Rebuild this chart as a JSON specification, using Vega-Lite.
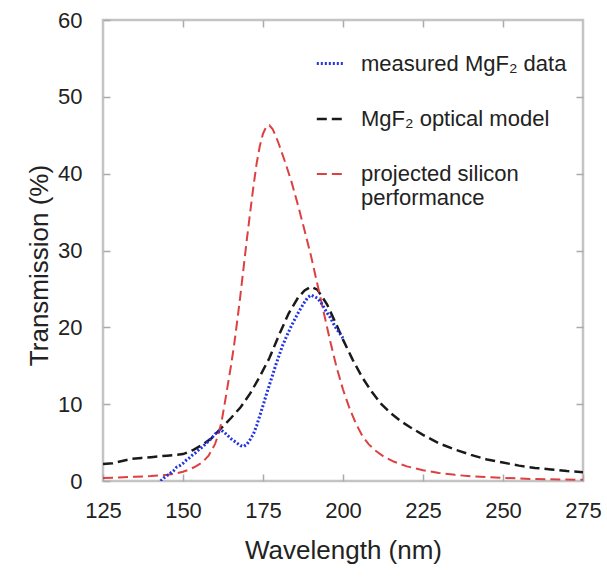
{
  "$schema": "https://vega.github.io/schema/vega-lite/v6.json",
  "width": 480,
  "height": 461,
  "autosize": {"type": "none"},
  "padding": {"left": 103, "top": 20, "right": 24, "bottom": 97},
  "background": "white",
  "config": {
    "font": "Liberation Sans",
    "view": {"stroke": "#c4c4c4", "strokeWidth": 2.5},
    "axis": {
      "domain": false,
      "grid": false,
      "ticks": true,
      "tickColor": "#aaaaaa",
      "tickWidth": 1.5,
      "tickSize": 7,
      "offset": -7,
      "labelFlush": false,
      "labelFontSize": 22,
      "labelColor": "#222222",
      "titleFontSize": 26,
      "titleFontWeight": "normal",
      "titleColor": "#222222"
    },
    "legend": {
      "orient": "none", "legendX": 212, "legendY": 28, "title": null,
      "symbolType": "stroke", "symbolSize": 750,
      "labelFontSize": 22, "labelColor": "#222222", "labelLimit": 400,
      "rowPadding": 29, "labelOffset": 15
    }
  },
  "datasets": {
    "curves": [
      {"series": "MgF₂ optical model", "wl": 125, "t": 2.2},
      {"series": "MgF₂ optical model", "wl": 128, "t": 2.3},
      {"series": "MgF₂ optical model", "wl": 131, "t": 2.6},
      {"series": "MgF₂ optical model", "wl": 134, "t": 2.9},
      {"series": "MgF₂ optical model", "wl": 137, "t": 3.0},
      {"series": "MgF₂ optical model", "wl": 140, "t": 3.1},
      {"series": "MgF₂ optical model", "wl": 145, "t": 3.3},
      {"series": "MgF₂ optical model", "wl": 150, "t": 3.5},
      {"series": "MgF₂ optical model", "wl": 153, "t": 4.0},
      {"series": "MgF₂ optical model", "wl": 156, "t": 4.7},
      {"series": "MgF₂ optical model", "wl": 159, "t": 5.6},
      {"series": "MgF₂ optical model", "wl": 162, "t": 6.9},
      {"series": "MgF₂ optical model", "wl": 165, "t": 8.2},
      {"series": "MgF₂ optical model", "wl": 168, "t": 9.6},
      {"series": "MgF₂ optical model", "wl": 171, "t": 11.4},
      {"series": "MgF₂ optical model", "wl": 174, "t": 13.6},
      {"series": "MgF₂ optical model", "wl": 177, "t": 16.0},
      {"series": "MgF₂ optical model", "wl": 180, "t": 19.0},
      {"series": "MgF₂ optical model", "wl": 183, "t": 21.8},
      {"series": "MgF₂ optical model", "wl": 186, "t": 23.9},
      {"series": "MgF₂ optical model", "wl": 188, "t": 24.8},
      {"series": "MgF₂ optical model", "wl": 190, "t": 25.3},
      {"series": "MgF₂ optical model", "wl": 192, "t": 24.9},
      {"series": "MgF₂ optical model", "wl": 195, "t": 23.0},
      {"series": "MgF₂ optical model", "wl": 198, "t": 20.3},
      {"series": "MgF₂ optical model", "wl": 200, "t": 18.4},
      {"series": "MgF₂ optical model", "wl": 203, "t": 15.8},
      {"series": "MgF₂ optical model", "wl": 206, "t": 13.5},
      {"series": "MgF₂ optical model", "wl": 209, "t": 11.6},
      {"series": "MgF₂ optical model", "wl": 212, "t": 10.0},
      {"series": "MgF₂ optical model", "wl": 215, "t": 8.8},
      {"series": "MgF₂ optical model", "wl": 218, "t": 7.8},
      {"series": "MgF₂ optical model", "wl": 221, "t": 7.0},
      {"series": "MgF₂ optical model", "wl": 225, "t": 6.0},
      {"series": "MgF₂ optical model", "wl": 230, "t": 4.9},
      {"series": "MgF₂ optical model", "wl": 235, "t": 4.1},
      {"series": "MgF₂ optical model", "wl": 240, "t": 3.4},
      {"series": "MgF₂ optical model", "wl": 245, "t": 2.8},
      {"series": "MgF₂ optical model", "wl": 250, "t": 2.4},
      {"series": "MgF₂ optical model", "wl": 255, "t": 2.0},
      {"series": "MgF₂ optical model", "wl": 260, "t": 1.7},
      {"series": "MgF₂ optical model", "wl": 265, "t": 1.5},
      {"series": "MgF₂ optical model", "wl": 270, "t": 1.3},
      {"series": "MgF₂ optical model", "wl": 275, "t": 1.15},

      {"series": "projected silicon performance", "wl": 125, "t": 0.4},
      {"series": "projected silicon performance", "wl": 130, "t": 0.45},
      {"series": "projected silicon performance", "wl": 135, "t": 0.55},
      {"series": "projected silicon performance", "wl": 140, "t": 0.65},
      {"series": "projected silicon performance", "wl": 145, "t": 0.8},
      {"series": "projected silicon performance", "wl": 148, "t": 1.0},
      {"series": "projected silicon performance", "wl": 150, "t": 1.2},
      {"series": "projected silicon performance", "wl": 152, "t": 1.5},
      {"series": "projected silicon performance", "wl": 154, "t": 1.9},
      {"series": "projected silicon performance", "wl": 156, "t": 2.4},
      {"series": "projected silicon performance", "wl": 158, "t": 3.3},
      {"series": "projected silicon performance", "wl": 160, "t": 4.8},
      {"series": "projected silicon performance", "wl": 161, "t": 6.0},
      {"series": "projected silicon performance", "wl": 162, "t": 7.6},
      {"series": "projected silicon performance", "wl": 163, "t": 10.0},
      {"series": "projected silicon performance", "wl": 164, "t": 12.5},
      {"series": "projected silicon performance", "wl": 165, "t": 15.0},
      {"series": "projected silicon performance", "wl": 166, "t": 17.8},
      {"series": "projected silicon performance", "wl": 167, "t": 21.0},
      {"series": "projected silicon performance", "wl": 168, "t": 24.4},
      {"series": "projected silicon performance", "wl": 169, "t": 28.0},
      {"series": "projected silicon performance", "wl": 170, "t": 31.6},
      {"series": "projected silicon performance", "wl": 171, "t": 35.0},
      {"series": "projected silicon performance", "wl": 172, "t": 38.3},
      {"series": "projected silicon performance", "wl": 173, "t": 41.3},
      {"series": "projected silicon performance", "wl": 174, "t": 43.6},
      {"series": "projected silicon performance", "wl": 175, "t": 45.2},
      {"series": "projected silicon performance", "wl": 176, "t": 46.1},
      {"series": "projected silicon performance", "wl": 177, "t": 46.3},
      {"series": "projected silicon performance", "wl": 178, "t": 45.8},
      {"series": "projected silicon performance", "wl": 179, "t": 44.9},
      {"series": "projected silicon performance", "wl": 180, "t": 43.8},
      {"series": "projected silicon performance", "wl": 182, "t": 41.4},
      {"series": "projected silicon performance", "wl": 184, "t": 38.8},
      {"series": "projected silicon performance", "wl": 186, "t": 35.8},
      {"series": "projected silicon performance", "wl": 188, "t": 32.6},
      {"series": "projected silicon performance", "wl": 190, "t": 29.3},
      {"series": "projected silicon performance", "wl": 192, "t": 25.6},
      {"series": "projected silicon performance", "wl": 194, "t": 21.9},
      {"series": "projected silicon performance", "wl": 196, "t": 18.2},
      {"series": "projected silicon performance", "wl": 198, "t": 14.8},
      {"series": "projected silicon performance", "wl": 200, "t": 11.9},
      {"series": "projected silicon performance", "wl": 202, "t": 9.5},
      {"series": "projected silicon performance", "wl": 204, "t": 7.5},
      {"series": "projected silicon performance", "wl": 206, "t": 5.9},
      {"series": "projected silicon performance", "wl": 208, "t": 4.8},
      {"series": "projected silicon performance", "wl": 210, "t": 4.0},
      {"series": "projected silicon performance", "wl": 213, "t": 3.1},
      {"series": "projected silicon performance", "wl": 216, "t": 2.5},
      {"series": "projected silicon performance", "wl": 220, "t": 1.9},
      {"series": "projected silicon performance", "wl": 225, "t": 1.4},
      {"series": "projected silicon performance", "wl": 230, "t": 1.05},
      {"series": "projected silicon performance", "wl": 235, "t": 0.8},
      {"series": "projected silicon performance", "wl": 240, "t": 0.6},
      {"series": "projected silicon performance", "wl": 250, "t": 0.4},
      {"series": "projected silicon performance", "wl": 260, "t": 0.25},
      {"series": "projected silicon performance", "wl": 275, "t": 0.15},

      {"series": "measured MgF₂ data", "wl": 143, "t": 0.0},
      {"series": "measured MgF₂ data", "wl": 144, "t": 0.4},
      {"series": "measured MgF₂ data", "wl": 145, "t": 0.7},
      {"series": "measured MgF₂ data", "wl": 146, "t": 1.0},
      {"series": "measured MgF₂ data", "wl": 147, "t": 1.3},
      {"series": "measured MgF₂ data", "wl": 148, "t": 1.8},
      {"series": "measured MgF₂ data", "wl": 149, "t": 2.0},
      {"series": "measured MgF₂ data", "wl": 150, "t": 2.3},
      {"series": "measured MgF₂ data", "wl": 151, "t": 2.7},
      {"series": "measured MgF₂ data", "wl": 152, "t": 3.0},
      {"series": "measured MgF₂ data", "wl": 153, "t": 3.4},
      {"series": "measured MgF₂ data", "wl": 154, "t": 3.7},
      {"series": "measured MgF₂ data", "wl": 155, "t": 4.1},
      {"series": "measured MgF₂ data", "wl": 156, "t": 4.4},
      {"series": "measured MgF₂ data", "wl": 157, "t": 4.8},
      {"series": "measured MgF₂ data", "wl": 158, "t": 5.2},
      {"series": "measured MgF₂ data", "wl": 159, "t": 5.6},
      {"series": "measured MgF₂ data", "wl": 160, "t": 6.1},
      {"series": "measured MgF₂ data", "wl": 161, "t": 6.4},
      {"series": "measured MgF₂ data", "wl": 162, "t": 6.6},
      {"series": "measured MgF₂ data", "wl": 163, "t": 6.3},
      {"series": "measured MgF₂ data", "wl": 164, "t": 5.9},
      {"series": "measured MgF₂ data", "wl": 165, "t": 5.5},
      {"series": "measured MgF₂ data", "wl": 166, "t": 5.2},
      {"series": "measured MgF₂ data", "wl": 167, "t": 4.9},
      {"series": "measured MgF₂ data", "wl": 168, "t": 4.6},
      {"series": "measured MgF₂ data", "wl": 169, "t": 4.5},
      {"series": "measured MgF₂ data", "wl": 170, "t": 4.8},
      {"series": "measured MgF₂ data", "wl": 171, "t": 5.4},
      {"series": "measured MgF₂ data", "wl": 172, "t": 6.1},
      {"series": "measured MgF₂ data", "wl": 173, "t": 7.2},
      {"series": "measured MgF₂ data", "wl": 174, "t": 8.5},
      {"series": "measured MgF₂ data", "wl": 175, "t": 9.8},
      {"series": "measured MgF₂ data", "wl": 176, "t": 11.2},
      {"series": "measured MgF₂ data", "wl": 177, "t": 12.5},
      {"series": "measured MgF₂ data", "wl": 178, "t": 13.8},
      {"series": "measured MgF₂ data", "wl": 179, "t": 15.1},
      {"series": "measured MgF₂ data", "wl": 180, "t": 16.3},
      {"series": "measured MgF₂ data", "wl": 181, "t": 17.5},
      {"series": "measured MgF₂ data", "wl": 182, "t": 18.5},
      {"series": "measured MgF₂ data", "wl": 183, "t": 19.4},
      {"series": "measured MgF₂ data", "wl": 184, "t": 20.3},
      {"series": "measured MgF₂ data", "wl": 185, "t": 21.1},
      {"series": "measured MgF₂ data", "wl": 186, "t": 21.9},
      {"series": "measured MgF₂ data", "wl": 187, "t": 22.6},
      {"series": "measured MgF₂ data", "wl": 188, "t": 23.3},
      {"series": "measured MgF₂ data", "wl": 189, "t": 23.9},
      {"series": "measured MgF₂ data", "wl": 190, "t": 24.2},
      {"series": "measured MgF₂ data", "wl": 191, "t": 24.0},
      {"series": "measured MgF₂ data", "wl": 192, "t": 23.8},
      {"series": "measured MgF₂ data", "wl": 193, "t": 23.3},
      {"series": "measured MgF₂ data", "wl": 194, "t": 22.6},
      {"series": "measured MgF₂ data", "wl": 195, "t": 21.9},
      {"series": "measured MgF₂ data", "wl": 196, "t": 21.3},
      {"series": "measured MgF₂ data", "wl": 197, "t": 20.5},
      {"series": "measured MgF₂ data", "wl": 198, "t": 19.8},
      {"series": "measured MgF₂ data", "wl": 199, "t": 19.2},
      {"series": "measured MgF₂ data", "wl": 200, "t": 18.6}
    ]
  },
  "data": {"name": "curves"},
  "layer": [
    {
      "mark": {"type": "line", "clip": true},
      "encoding": {
        "x": {
          "field": "wl", "type": "quantitative",
          "scale": {"domain": [125, 275], "nice": false},
          "axis": {"values": [125, 150, 175, 200, 225, 250, 275], "title": "Wavelength (nm)", "labelPadding": 19, "titlePadding": 16}
        },
        "y": {
          "field": "t", "type": "quantitative",
          "scale": {"domain": [0, 60], "nice": false},
          "axis": {"values": [0, 10, 20, 30, 40, 50, 60], "title": "Transmission (%)", "labelPadding": 21, "titleX": -58, "titleY": 245}
        },
        "color": {
          "field": "series", "type": "nominal",
          "scale": {
            "domain": ["measured MgF₂ data", "MgF₂ optical model", "projected silicon performance"],
            "range": ["#2233e0", "#1a1a1a", "#dd4040"]
          },
          "legend": {
            "labelExpr": "datum.label == 'projected silicon performance' ? ['projected silicon', 'performance'] : datum.label"
          }
        },
        "strokeDash": {
          "field": "series", "type": "nominal",
          "scale": {
            "domain": ["measured MgF₂ data", "MgF₂ optical model", "projected silicon performance"],
            "range": [[2, 2], [10, 5], [10, 5]]
          },
          "legend": {
            "labelExpr": "datum.label == 'projected silicon performance' ? ['projected silicon', 'performance'] : datum.label"
          }
        },
        "strokeWidth": {
          "field": "series", "type": "nominal",
          "scale": {
            "domain": ["measured MgF₂ data", "MgF₂ optical model", "projected silicon performance"],
            "range": [3, 2, 2]
          },
          "legend": {
            "labelExpr": "datum.label == 'projected silicon performance' ? ['projected silicon', 'performance'] : datum.label"
          }
        }
      }
    },
    {
      "mark": {"type": "line", "opacity": 0},
      "encoding": {
        "x": {
          "field": "wl", "type": "quantitative",
          "axis": {"orient": "top", "values": [150, 175, 200, 225, 250], "labels": false, "title": null}
        },
        "y": {
          "field": "t", "type": "quantitative",
          "axis": {"orient": "right", "values": [10, 20, 30, 40, 50], "labels": false, "title": null}
        },
        "detail": {"field": "series"}
      }
    }
  ],
  "resolve": {"axis": {"x": "independent", "y": "independent"}}
}
